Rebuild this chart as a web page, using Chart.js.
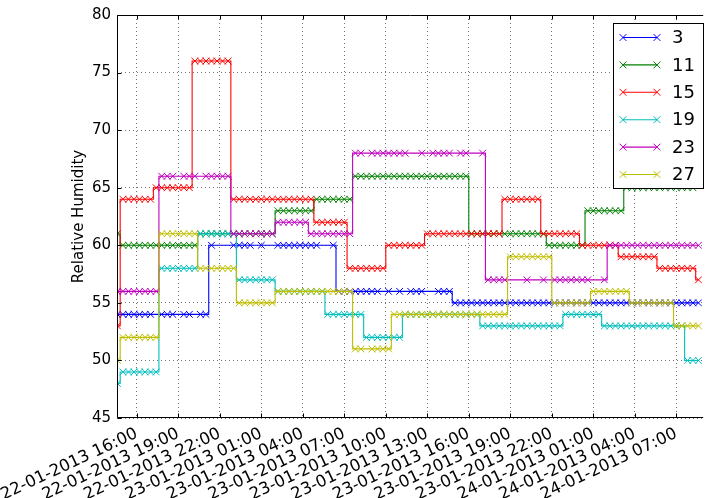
<!DOCTYPE html>
<html>
<head>
<meta charset="utf-8">
<title>Relative Humidity</title>
<script src="https://cdn.jsdelivr.net/npm/chart.js@4.4.1/dist/chart.umd.min.js"></script>
<style>
html, body { margin: 0; padding: 0; background: #fff; overflow: hidden; }
#wrap { width: 708px; height: 498px; }
</style>
</head>
<body>
<div id="wrap"><canvas id="myChart" width="708" height="498"></canvas></div>
<script>
// reading times, hours since 22-01-2013 00:00
var hours = [
  14.6, 15, 15.4, 15.8, 16.2, 16.6, 17, 17.4, 17.8, 18.2,
  18.6, 19, 19.4, 19.8, 20.2, 20.6, 21, 21.4, 21.8, 22.2,
  22.6, 23, 23.4, 23.8, 24.2, 24.6, 25, 25.4, 25.8, 26.2,
  26.6, 27, 27.4, 27.8, 28.2, 28.6, 29, 29.4, 29.8, 30.2,
  30.6, 31, 31.4, 31.8, 32.2, 32.6, 33, 33.4, 33.8, 34.2,
  34.6, 35, 35.4, 35.8, 36.2, 36.6, 37, 37.4, 37.8, 38.2,
  38.6, 39, 39.4, 39.8, 40.2, 40.6, 41, 41.4, 41.8, 42.2,
  42.6, 43, 43.4, 43.8, 44.2, 44.6, 45, 45.4, 45.8, 46.2,
  46.6, 47, 47.4, 47.8, 48.2, 48.6, 49, 49.4, 49.8, 50.2,
  50.6, 51, 51.4, 51.8, 52.2, 52.6, 53, 53.4, 53.8, 54.2,
  54.6, 55, 55.4, 55.8, 56.2, 56.6
];

var tickHours = [16, 19, 22, 25, 28, 31, 34, 37, 40, 43, 46, 49, 52, 55];
var tickLabels = [
  '22-01-2013 16:00', '22-01-2013 19:00', '22-01-2013 22:00',
  '23-01-2013 01:00', '23-01-2013 04:00', '23-01-2013 07:00',
  '23-01-2013 10:00', '23-01-2013 13:00', '23-01-2013 16:00',
  '23-01-2013 19:00', '23-01-2013 22:00', '24-01-2013 01:00',
  '24-01-2013 04:00', '24-01-2013 07:00'
];

var sensorNames = ['3', '11', '15', '19', '23', '27'];
var sensorColors = ['#0000ff', '#008000', '#ff0000', '#00bfbf', '#bf00bf', '#bfbf00'];

var hum3 = [
  54, 54, 54, 54, 54, 54, 54, null, 54, 54,
  54, null, 54, 54, null, 54, 54, 60, null, null,
  null, 60, 60, 60, 60, null, 60, null, null, 60,
  60, 60, 60, 60, 60, 60, 60, null, null, 60,
  56, 56, 56, 56, 56, 56, 56, 56, null, 56,
  null, 56, null, 56, 56, 56, null, null, 56, 56,
  56, 55, 55, 55, 55, 55, 55, 55, 55, 55,
  55, 55, 55, 55, 55, 55, 55, 55, 55, 55,
  55, 55, 55, 55, 55, 55, 55, 55, 55, 55,
  55, 55, 55, 55, 55, 55, 55, 55, 55, 55,
  55, 55, 55, 55, 55, 55
];
var hum11 = [
  61, 60, 60, 60, 60, 60, 60, 60, 60, 60,
  60, 60, 60, 60, 60, 61, 61, 61, 61, 61,
  61, 61, 61, 61, 61, 61, 61, 61, 61, 63,
  63, 63, 63, 63, 63, 63, 64, 64, 64, 64,
  64, 64, 64, 66, 66, 66, 66, 66, 66, 66,
  66, 66, 66, 66, 66, 66, 66, 66, 66, 66,
  66, 66, 66, 66, 61, 61, 61, 61, 61, 61,
  61, 61, 61, 61, 61, 61, 61, 61, 60, 60,
  60, 60, 60, 60, 60, 63, 63, 63, 63, 63,
  63, 63, 65, 65, 65, 65, 65, 65, 65, 65,
  65, 65, 65, 65, 65, 66
];
var hum15 = [
  53, 64, 64, 64, 64, 64, 64, 65, 65, 65,
  65, 65, 65, 65, 76, 76, 76, 76, 76, 76,
  76, 64, 64, 64, 64, 64, 64, 64, 64, 64,
  64, 64, 64, 64, 64, 64, 62, 62, 62, 62,
  62, 62, 58, 58, 58, 58, 58, 58, 58, 60,
  60, 60, 60, 60, 60, 60, 61, 61, 61, 61,
  61, 61, 61, 61, 61, 61, 61, 61, 61, 61,
  64, 64, 64, 64, 64, 64, 64, 61, 61, 61,
  61, 61, 61, 61, 60, 60, 60, 60, 60, 60,
  60, 59, 59, 59, 59, 59, 59, 59, 58, 58,
  58, 58, 58, 58, 58, 57
];
var hum19 = [
  48, 49, 49, 49, 49, 49, 49, 49, 58, 58,
  58, 58, 58, 58, 58, 61, 61, 61, 61, 61,
  61, 61, 57, 57, 57, 57, 57, 57, 57, 56,
  56, 56, 56, 56, 56, 56, 56, 56, 54, 54,
  54, 54, 54, 54, 54, 52, 52, 52, 52, 52,
  52, 52, 54, 54, 54, 54, 54, 54, 54, 54,
  54, 54, 54, 54, 54, 54, 53, 53, 53, 53,
  53, 53, 53, 53, 53, 53, 53, 53, 53, 53,
  53, 54, 54, 54, 54, 54, 54, 54, 53, 53,
  53, 53, 53, 53, 53, 53, 53, 53, 53, 53,
  53, 53, 53, 50, 50, 50
];
var hum23 = [
  56, 56, 56, 56, 56, 56, 56, 56, 66, 66,
  66, null, 66, 66, 66, null, 66, 66, 66, 66,
  66, 61, 61, 61, 61, 61, 61, 61, 61, 62,
  62, 62, 62, 62, 62, 61, 61, 61, 61, 61,
  61, 61, 61, 68, 68, null, 68, 68, 68, 68,
  68, 68, 68, null, null, 68, null, 68, 68, 68,
  68, null, 68, 68, null, null, 68, 57, 57, 57,
  57, null, null, null, 57, null, null, 57, null, 57,
  57, 57, 57, 57, 57, 57, null, null, 57, 60,
  60, 60, 60, 60, 60, 60, 60, 60, 60, 60,
  60, 60, 60, 60, 60, 60
];
var hum27 = [
  50, 52, 52, 52, 52, 52, 52, 52, 61, 61,
  61, 61, 61, 61, 61, 58, 58, 58, 58, 58,
  58, 58, 55, 55, 55, 55, 55, 55, 55, 56,
  56, 56, 56, 56, 56, 56, 56, 56, 56, 56,
  56, 56, 56, 51, 51, null, 51, 51, 51, 51,
  54, 54, 54, 54, 54, 54, 54, 54, 54, 54,
  54, 54, 54, 54, 54, 54, 54, 54, 54, 54,
  54, 59, 59, 59, 59, 59, 59, 59, 59, 55,
  55, 55, 55, 55, 55, 55, 56, 56, 56, 56,
  56, 56, 56, 55, 55, 55, 55, 55, 55, 55,
  55, 53, 53, 53, 53, 53
];
var sensorValues = [hum3, hum11, hum15, hum19, hum23, hum27];

var FONT = 'DejaVu Sans';

function toPoints(values) {
  var pts = [];
  for (var i = 0; i < hours.length; i++) {
    pts.push({x: hours[i], y: values[i]});
  }
  return pts;
}

var datasets = [];
for (var k = 0; k < sensorNames.length; k++) {
  var c = sensorColors[k];
  datasets.push({
    label: sensorNames[k],
    data: toPoints(sensorValues[k]),
    borderColor: c,
    backgroundColor: c,
    borderWidth: 1.1,
    stepped: 'middle',
    spanGaps: true,
    pointStyle: 'crossRot',
    pointRadius: 4.8,
    pointBorderWidth: 1,
    pointBorderColor: c,
    pointBackgroundColor: c,
    order: sensorNames.length - k
  });
}

function drawCross(ctx, x, y, r) {
  ctx.beginPath();
  ctx.moveTo(x - r, y - r); ctx.lineTo(x + r, y + r);
  ctx.moveTo(x - r, y + r); ctx.lineTo(x + r, y - r);
  ctx.stroke();
}

// axes frame, inward ticks and boxed legend, like the matplotlib original
var framePlugin = {
  id: 'frame',
  afterDatasetsDraw: function (chart) {
    var ctx = chart.ctx;
    var a = chart.chartArea;
    var xs = chart.scales.x, ys = chart.scales.y;
    var l = Math.round(a.left) + 0.5, t = Math.round(a.top) + 0.5, b = Math.round(a.bottom) - 0.5;
    ctx.save();
    ctx.strokeStyle = '#000';
    ctx.lineWidth = 1;
    ctx.beginPath();
    ctx.moveTo(a.right + 1, t); ctx.lineTo(l, t); ctx.lineTo(l, b); ctx.lineTo(a.right + 1, b);
    xs.ticks.forEach(function (tk) {
      var px = Math.round(xs.getPixelForValue(tk.value)) + 0.5;
      ctx.moveTo(px, b); ctx.lineTo(px, b - 4);
      ctx.moveTo(px, t); ctx.lineTo(px, t + 4);
    });
    ys.ticks.forEach(function (tk) {
      var py = Math.round(ys.getPixelForValue(tk.value)) + 0.5;
      ctx.moveTo(l, py); ctx.lineTo(l + 4, py);
    });
    ctx.stroke();

    // legend box
    var bx = 613.5, by = 23.5, bw = 90, bh = 165;
    ctx.fillStyle = '#fff';
    ctx.fillRect(bx, by, bw, bh);
    ctx.strokeStyle = '#000';
    ctx.strokeRect(bx, by, bw, bh);
    ctx.font = '18px "' + FONT + '"';
    ctx.textBaseline = 'middle';
    ctx.textAlign = 'left';
    chart.data.datasets.forEach(function (ds, i) {
      var y = 37.5 + i * 27.4;
      ctx.strokeStyle = ds.borderColor;
      ctx.lineWidth = 1.1;
      ctx.beginPath();
      ctx.moveTo(623, y); ctx.lineTo(657, y);
      ctx.stroke();
      ctx.lineWidth = 1;
      drawCross(ctx, 623, y, 3.4);
      drawCross(ctx, 657, y, 3.4);
      ctx.fillStyle = '#000';
      ctx.fillText(ds.label, 672, y + 1);
    });
    ctx.restore();
  }
};

var ctx = document.getElementById('myChart').getContext('2d');
var myChart = new Chart(ctx, {
  type: 'line',
  data: { datasets: datasets },
  plugins: [framePlugin],
  options: {
    responsive: false,
    animation: false,
    layout: { padding: { top: 14, left: 0, right: 0, bottom: 0 } },
    plugins: {
      legend: { display: false },
      tooltip: { enabled: false }
    },
    scales: {
      x: {
        type: 'linear',
        min: 14.57,
        max: 56.87,
        afterBuildTicks: function (scale) {
          scale.ticks = tickHours.map(function (v) { return {value: v}; });
        },
        afterFit: function (scale) {
          scale.height = 80;
          // let the first rotated label run off the left edge, as in the original
          scale.paddingLeft = 0;
          scale.paddingRight = 0;
        },
        grid: { color: 'rgba(0,0,0,0.55)', lineWidth: 1, drawTicks: false },
        border: { display: false, dash: [1, 3] },
        ticks: {
          autoSkip: false,
          minRotation: 25,
          maxRotation: 25,
          padding: 6,
          color: '#000',
          font: { family: FONT, size: 16.5 },
          callback: function (v) {
            var k = tickHours.indexOf(v);
            return k >= 0 ? tickLabels[k] : '';
          }
        }
      },
      y: {
        min: 45,
        max: 80,
        afterFit: function (scale) { scale.width = 117; },
        grid: { color: 'rgba(0,0,0,0.55)', lineWidth: 1, drawTicks: false },
        border: { display: false, dash: [1, 3] },
        ticks: {
          stepSize: 5,
          padding: 6,
          color: '#000',
          font: { family: FONT, size: 15 }
        },
        title: {
          display: true,
          text: 'Relative Humidity',
          color: '#000',
          font: { family: FONT, size: 15 },
          padding: { top: 70, bottom: 0 }
        }
      }
    }
  }
});
</script>
</body>
</html>
